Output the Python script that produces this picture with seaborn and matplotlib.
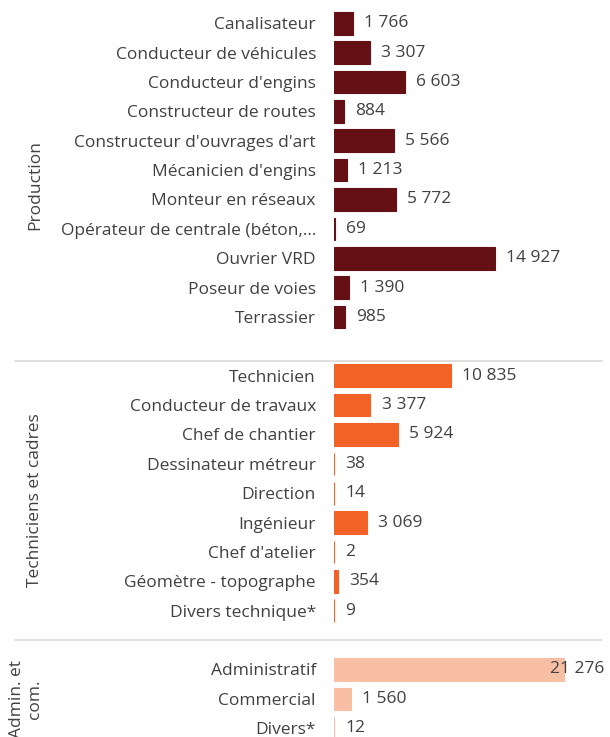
import pandas as pd
import seaborn as sns
import matplotlib.pyplot as plt
from matplotlib import transforms

# données
production = ["Canalisateur", "Conducteur de véhicules", "Conducteur d'engins",
              "Constructeur de routes", "Constructeur d'ouvrages d'art",
              "Mécanicien d'engins", "Monteur en réseaux",
              "Opérateur de centrale (béton,…", "Ouvrier VRD",
              "Poseur de voies", "Terrassier"]
production_vals = [1766, 3307, 6603, 884, 5566, 1213, 5772, 69, 14927, 1390, 985]

techniciens = ["Technicien", "Conducteur de travaux", "Chef de chantier",
               "Dessinateur métreur", "Direction", "Ingénieur",
               "Chef d'atelier", "Géomètre - topographe", "Divers technique*"]
techniciens_vals = [10835, 3377, 5924, 38, 14, 3069, 2, 354, 9]

admin = ["Administratif", "Commercial", "Divers*"]
admin_vals = [21276, 1560, 12]

group_names = ["Production", "Techniciens et cadres", "Admin. et\ncom."]
group_colors = ["#651015", "#f26125", "#f9bfa5"]

# tableau avec une ligne vide entre les groupes
rows = []
slot = 0
starts = []
for g, (labels, vals) in enumerate([(production, production_vals),
                                    (techniciens, techniciens_vals),
                                    (admin, admin_vals)]):
    starts.append(slot)
    for lab, v in zip(labels, vals):
        rows.append({"metier": lab, "valeur": v, "slot": slot, "groupe": group_names[g]})
        slot += 1
    slot += 1
df = pd.DataFrame(rows)

sns.set_theme(style="white")
plt.rcParams["font.family"] = ["Open Sans", "DejaVu Sans"]
text_color = "#404040"
fs = 12.5

fig = plt.figure(figsize=(6.1, 7.37), dpi=100)
ax = fig.add_axes([334 / 610, 0, 270 / 610, 1])

sns.barplot(data=df, x="valeur", y="slot", hue="groupe", orient="h",
            native_scale=True, dodge=False, palette=group_colors,
            hue_order=group_names, width=0.77, errorbar=None, legend=False,
            saturation=1, ax=ax)
# petit contour pour que les très petites valeurs restent visibles
for p in ax.patches:
    p.set_edgecolor(p.get_facecolor())
    p.set_linewidth(0.8)

xmax = 25000
ax.set_xlim(0, xmax)
ax.set_ylim(24.30, -0.79)
ax.set_xticks([])
ax.set_yticks(df["slot"])
ax.set_yticklabels(df["metier"], fontsize=fs, color=text_color)
ax.tick_params(axis="y", length=0, pad=13)
ax.set_xlabel("")
ax.set_ylabel("")
sns.despine(ax=ax, left=True, bottom=True)

# étiquettes de valeurs
for _, r in df.iterrows():
    txt = f"{r['valeur']:,}".replace(",", " ")
    if r["valeur"] > 0.8 * xmax:
        ax.text(1.003, r["slot"], txt, transform=transforms.blended_transform_factory(ax.transAxes, ax.transData),
                ha="right", va="center", fontsize=fs, color=text_color, clip_on=False)
    else:
        ax.annotate(txt, (r["valeur"], r["slot"]), xytext=(8, 0), textcoords="offset points",
                    ha="left", va="center", fontsize=fs, color=text_color)

# séparateurs et titres de groupe
edges = [-0.5, starts[1] - 0.5, starts[2] - 1.0, df["slot"].max() + 1]
sep_tr = transforms.blended_transform_factory(fig.transFigure, ax.transData)
for y in edges[1:3]:
    ax.plot([15 / 610, 602 / 610], [y, y], color="#d9d9d9", lw=1.2,
            transform=sep_tr, clip_on=False)
for g, name in enumerate(group_names):
    yc = (edges[g] + edges[g + 1]) / 2
    ax.text(43 / 610, yc, name, transform=sep_tr, rotation=90, ha="right",
            va="center", multialignment="center", fontsize=fs, color=text_color)

plt.savefig("out.png", dpi=100)
